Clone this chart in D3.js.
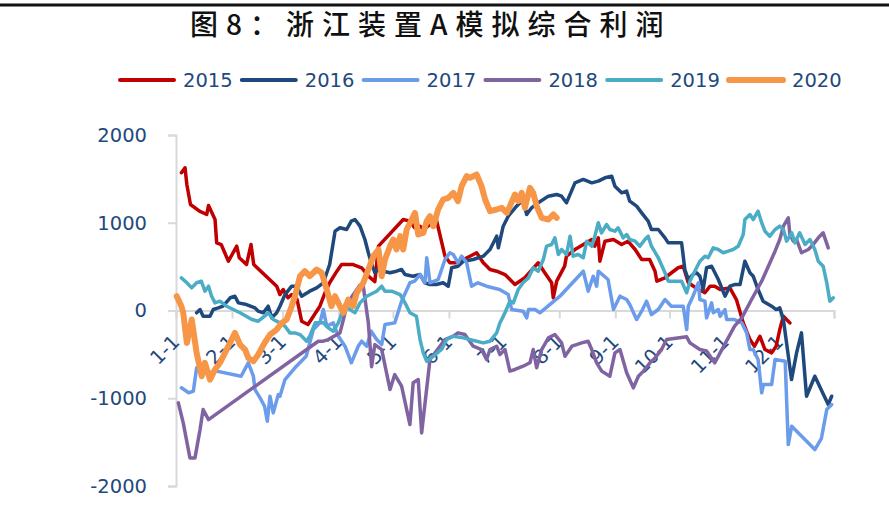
<!DOCTYPE html>
<html>
<head>
<meta charset="utf-8">
<script src="https://cdn.jsdelivr.net/npm/d3@7/dist/d3.min.js"></script>
<style>
  body { margin: 0; background: #fff; }
  svg text { font-family: "DejaVu Sans", Verdana, sans-serif; }
</style>
</head>
<body>
<div class="chart-div"></div>
<script>
// series names, axis labels
var years = ['2015', '2016', '2017', '2018', '2019', '2020'];
var month_labels = ['1-1', '2-1', '3-1', '4-1', '5-1', '6-1', '7-1', '8-1', '9-1', '10-1', '11-1', '12-1'];
var month_starts = [0, 31, 59, 90, 120, 151, 181, 212, 243, 273, 304, 334];
var y_ticks = [-2000, -1000, 0, 1000, 2000];

// [day of year, profit]
var s2015 = [[3,1570],[5,1627],[6,1436],[8,1208],[13,1132],[17,1094],[18,1197],[21.6,1037],[22.5,772],[25,752],[29,562],
  [33.6,733],[35,601],[39,524],[41.5,752],[43,524],[55.7,277],[57.5,182],[59.3,239],[62,145],[64,182],[67,125],[69.5,-122],
  [73,-160],[76,-65],[79.6,49],[82.4,202],[85,316],[89,448],[91.6,524],[98,524],[102.7,487],[106.4,391],[110,330],[112,733],
  [125.7,1037],[129.4,1018],[132,943],[135,961],[136.8,923],[140.5,980],[144,1037],[148.8,619],[151.5,544],[155,544],
  [159,581],[162.6,619],[166.3,658],[170,544],[173.7,467],[177.4,448],[182,410],[187.5,296],[193,373],[200.4,544],[204,430],
  [207.8,316],[208.7,145],[210.6,334],[215,505],[216,619],[220.7,695],[230,809],[231.7,733],[233.6,828],[234.5,562],
  [237.3,790],[242,809],[246.5,752],[250,790],[254,695],[257.6,581],[262,581],[265,448],[266,334],[270.5,373],[277.8,487],
  [280.6,505],[283.4,316],[289,239],[292.6,202],[295.4,277],[298,277],[301,239],[306.4,258],[310,125],[313.8,-141],
  [317.5,-331],[320,-407],[323,-293],[325.8,-445],[329.5,-483],[332,-407],[334,-217],[336,-65],[339.6,-141]];

var s2016 = [[11.4,-26],[13.3,11],[15,-65],[18.8,-65],[20.6,11],[23.4,30],[26,49],[30,145],[32.6,163],[34.5,87],[39,68],
  [43.7,30],[45.5,-8],[48.3,-26],[51,49],[53,-84],[55.7,-26],[57.5,49],[60.3,182],[64,277],[66.8,277],[69.5,163],[74,220],
  [77.8,258],[81.5,316],[85,524],[88,904],[90.7,943],[94.4,923],[97,1018],[99,1037],[101.8,961],[104.5,809],[106.4,658],
  [108,544],[110,430],[112,467],[114.7,448],[118.4,430],[122,448],[124.8,467],[126.7,410],[131,391],[135,410],[137.7,316],
  [140.5,296],[144,296],[147.8,316],[150.6,277],[152.5,487],[156,505],[159,562],[164.4,581],[170,619],[173.7,695],
  [177.4,847],[178.3,714],[181,961],[183.8,1075],[188.4,1189],[192,1265],[194,1094],[196.7,1170],[200.4,1227],[206,1303],
  [210.6,1322],[213.3,1303],[216,1227],[220.7,1455],[225.3,1493],[230,1455],[233.6,1474],[237.3,1512],[241,1531],
  [242.8,1417],[246.5,1341],[249.3,1360],[251,1246],[254.8,1189],[257.6,1113],[261.2,1018],[263,923],[266.8,923],
  [270.5,828],[272.3,771],[279.7,771],[281.5,467],[283.4,353],[286,410],[288,430],[289.8,391],[291.6,239],[293.5,487],
  [296.3,505],[300,353],[303.7,163],[306.4,277],[309,296],[312,296],[314.7,562],[317.5,430],[319.3,391],[322,239],
  [324.8,106],[329.5,49],[332,11],[334,30],[336,-103],[340.5,-787],[343.3,-483],[346,-255],[348.8,-977],[353.4,-749],
  [360.8,-1072],[362.7,-977]];

var s2017 = [[3,-881],[7,-938],[9.6,-919],[11.4,-653],[14,-710],[16,-653],[18.8,-710],[22.5,-691],[36,-749],[40,-596],
  [42.8,-749],[43.7,-901],[46.5,-996],[49,-1091],[50.5,-1262],[52,-977],[53.8,-1167],[56.6,-958],[57.5,-977],[60.3,-787],
  [65.8,-653],[72,-521],[76,-217],[79.6,-141],[81.5,11],[83.4,-179],[87,-141],[89.8,-293],[93.5,-407],[97,-596],
  [100.8,-407],[102.7,-350],[105.5,-407],[108,-236],[111,-331],[113.8,-388],[115.6,-160],[121,-141],[124.8,106],
  [129.4,316],[132,334],[135,410],[137.7,316],[138.7,601],[140.5,316],[145,353],[146,410],[148.8,581],[151.5,658],
  [153.4,638],[156,544],[158,619],[160.8,544],[163.5,277],[167,316],[171.8,277],[179,239],[183.8,182],[185.7,11],
  [192,-8],[194,-84],[195,11],[198.6,11],[201.3,-26],[212.4,163],[225.3,448],[228,220],[230.8,391],[232.7,277],
  [233.6,448],[239,353],[242,11],[245.6,163],[249.3,125],[251,68],[254.8,-103],[257.6,-8],[260.3,106],[263,-46],
  [266.8,11],[270.5,125],[274,49],[280.6,49],[282.5,-217],[283.4,49],[286,163],[289,316],[289.8,125],[292.6,106],
  [293.5,-84],[296.3,87],[297.2,-26],[300,11],[301,-65],[303.7,11],[304.6,-103],[309,-103],[313,-141],[315.7,-255],
  [317.5,-445],[319.3,-445],[322,-559],[324,-938],[325,-844],[329.5,-844],[331.4,-559],[337,-578],[338.7,-1528],
  [340.6,-1319],[353.4,-1585],[357,-1460],[360,-1129],[362.7,-1072]];

var s2018 = [[1.3,-1053],[4,-1281],[7.7,-1680],[10.5,-1680],[13.3,-1357],[15,-1129],[18,-1243],[78.7,-350],[81.5,-350],
  [84.2,-331],[90.7,-255],[92.6,-103],[94.4,49],[96.2,125],[101.8,290],[103.6,277],[106.4,-141],[108.2,-640],[110,-388],
  [113.8,-445],[118.4,-901],[121,-730],[124.8,-863],[129.4,-1300],[131.2,-824],[134,-787],[135.9,-1395],[140.5,-559],
  [146,-407],[148.8,-331],[153.4,-293],[156,-255],[159.8,-274],[164.4,-407],[169,-445],[171.8,-559],[173.7,-445],
  [177.4,-407],[179.2,-502],[182,-445],[184.7,-691],[187.5,-672],[192,-635],[195.8,-596],[197.6,-445],[199.5,-653],
  [202.3,-445],[206,-312],[209.6,-274],[213.3,-369],[215.2,-521],[219,-407],[221.6,-388],[224.4,-369],[228,-350],
  [230,-445],[232.7,-596],[235.5,-691],[240,-749],[242.8,-483],[245.6,-445],[249.3,-710],[253,-881],[255.8,-749],
  [258.6,-691],[262.2,-596],[265,-540],[268.6,-445],[271.4,-330],[282.5,-300],[284.3,-369],[289.8,-445],[293.5,-460],
  [298,-596],[309,-179],[313,-84],[318.4,125],[324,334],[331.4,676],[334,809],[336,961],[338.7,1056],[339.6,866],
  [341.5,790],[343.3,809],[346,658],[349.8,695],[352.5,752],[355.3,828],[358,885],[360.8,714]];

var s2019 = [[3,372],[6,316],[8.7,258],[11.4,316],[14,334],[16,220],[18,277],[19.7,163],[21.6,87],[24.3,106],[28,49],
  [35.4,-26],[42,-103],[45.5,-122],[49,-65],[51,-26],[53.8,-103],[57.5,-141],[60.3,-179],[63,-255],[65.8,-255],
  [68.6,-274],[72.3,-350],[74,-293],[77,-141],[81.5,-141],[84.2,-198],[87,-236],[89.8,-141],[93.5,68],[96.2,11],
  [99,-26],[101.8,87],[105.5,163],[111,220],[113.8,277],[115.6,220],[119.3,220],[124,182],[126.7,87],[129.4,-26],
  [133,-65],[135,-331],[136.8,-483],[138.7,-580],[142.4,-521],[147,-440],[149.8,-331],[153.4,-293],[159,-312],
  [166.3,-350],[170,-369],[173.7,-350],[177.4,-255],[179.2,-141],[182,-26],[184.7,106],[186.6,87],[189.3,239],
  [192,316],[195,372],[197.6,487],[200.4,448],[203.2,581],[205,733],[207.8,752],[209.6,828],[211.5,638],[213.3,695],
  [216,638],[218,847],[219.7,619],[222.5,638],[225.3,601],[227.2,790],[230,733],[231.7,847],[233.6,1000],[235.4,885],
  [238.2,980],[240,923],[242.8,904],[244.6,943],[247.4,828],[249.3,866],[251,809],[254,790],[256.6,733],[259.4,809],
  [261.2,847],[263,733],[266.8,601],[270.5,430],[272.3,334],[279.7,334],[282.5,202],[284.3,334],[287,448],[289.8,562],
  [292.6,619],[294.4,601],[297.2,714],[300,695],[302.7,658],[305.5,676],[308.2,695],[311,733],[313.8,866],[314.7,1037],
  [317.5,1094],[319.3,1037],[322,1132],[324,1000],[325.8,904],[328.5,847],[331.4,923],[334,961],[336,923],[337.8,790],
  [340.6,885],[342.4,771],[345,885],[348,752],[350.7,809],[353.4,695],[355.3,562],[358,505],[360,316],[361.7,106],
  [363.6,145]];

var s2020 = [[0.4,163],[3,49],[4,-26],[6,-369],[8.7,-103],[11.4,-483],[14.2,-749],[16,-596],[18.8,-787],[21.6,-672],
  [24.3,-596],[28,-445],[32.6,-255],[35.4,-388],[38.2,-445],[40,-540],[42.8,-578],[45.5,-502],[49,-369],[52,-274],
  [55.7,-217],[58.5,-141],[61.2,-103],[64,49],[65.8,163],[68.6,391],[71.3,448],[74,391],[77.8,467],[80.6,430],
  [83.4,239],[86,49],[88,163],[90.7,49],[92.6,-26],[95.3,125],[98,49],[100,202],[103.6,316],[106.4,467],[109.2,619],
  [112,695],[113.8,391],[115.6,581],[118.4,733],[120.2,809],[122,695],[124,847],[125.7,695],[127.6,923],[130.4,1037],
  [132.2,1113],[134,866],[136.8,885],[138.7,1018],[140.5,1075],[142.4,961],[145,1151],[147.8,1265],[150.6,1284],
  [153.4,1341],[156,1246],[158,1417],[160.8,1531],[162.6,1512],[166.3,1550],[169,1417],[171,1265],[173.7,1132],
  [177.4,1151],[180.2,1170],[183,1113],[184.7,1189],[187.5,1322],[189.3,1246],[191.2,1341],[193,1170],[195.8,1398],
  [197.6,1341],[199.5,1189],[202.3,1056],[206,1037],[208.7,1094],[210.6,1056]];

var series = [s2015, s2016, s2017, s2018, s2019, s2020];
var colours = ['#c00000', '#1f497d', '#6a9ceb', '#8064a2', '#4bacc6', '#f79646'];
var widths = [3.5, 3.5, 3.5, 3.5, 3.5, 6];

function draw_chart() {
  var w = 889,
      h = 520,
      text_colour = '#1f497d',
      font_size = 19.5;

  var svg = d3.select('.chart-div')
    .append('svg')
    .attr('width', w)
    .attr('height', h);

  // rule at the very top
  svg.append('rect')
    .attr('x', 0).attr('y', 3.5)
    .attr('width', w).attr('height', 3)
    .style('fill', '#111');

  svg.append('text')
    .attr('x', 190)
    .attr('y', 35)
    .style('font-family', '"Noto Sans CJK SC", sans-serif')
    .style('font-size', '28px')
    .style('font-weight', 500)
    .style('letter-spacing', '8px')
    .style('fill', '#111')
    .text('图8：浙江装置A模拟综合利润');

  var x = d3.scaleLinear().domain([0, 364]).range([176, 834]),
      y = d3.scaleLinear().domain([-2000, 2000]).range([486, 135]);

  // y axis
  var y_axis = svg.append('g')
    .attr('transform', 'translate(' + x(0) + ',0)')
    .call(d3.axisLeft(y).tickValues(y_ticks).tickSize(8).tickPadding(21)
      .tickFormat(function(d) { return String(d); }));
  y_axis.select('.domain').style('stroke', '#d9d9d9').style('stroke-width', 2);
  y_axis.selectAll('.tick line').style('stroke', '#d9d9d9').style('stroke-width', 2);
  y_axis.selectAll('.tick text')
    .style('font-size', font_size + 'px')
    .style('fill', text_colour)
    .style('font-family', '"DejaVu Sans", sans-serif');

  // x axis along zero
  var x_axis = svg.append('g')
    .attr('transform', 'translate(0,' + y(0) + ')')
    .call(d3.axisBottom(x).tickValues(month_starts.concat([364])).tickSize(8).tickFormat(''));
  x_axis.select('.domain').style('stroke', '#d9d9d9').style('stroke-width', 2);
  x_axis.selectAll('.tick line').style('stroke', '#d9d9d9').style('stroke-width', 2);

  svg.append('g').selectAll('text')
    .data(month_labels)
    .enter().append('text')
    .attr('transform', function(d, i) {
      return 'translate(' + x(month_starts[i]) + ',' + (y(0) + 28) + ') rotate(-45)';
    })
    .attr('text-anchor', 'end')
    .attr('dy', '0.35em')
    .style('font-size', font_size + 'px')
    .style('fill', text_colour)
    .text(function(d) { return d; });

  var line = d3.line()
    .x(function(d) { return x(d[0]); })
    .y(function(d) { return y(d[1]); });

  svg.append('g').selectAll('path')
    .data(series)
    .enter().append('path')
    .attr('d', line)
    .style('fill', 'none')
    .style('stroke', function(d, i) { return colours[i]; })
    .style('stroke-width', function(d, i) { return widths[i]; })
    .style('stroke-linejoin', 'round')
    .style('stroke-linecap', 'round');

  // legend
  var legend = svg.append('g').selectAll('g')
    .data(years)
    .enter().append('g')
    .attr('transform', function(d, i) { return 'translate(' + (120 + 121.8*i) + ',80)'; });

  legend.append('line')
    .attr('x1', 0).attr('x2', 54)
    .style('stroke', function(d, i) { return colours[i]; })
    .style('stroke-width', function(d, i) { return i == 5 ? 6 : 4; })
    .style('stroke-linecap', 'round');

  legend.append('text')
    .attr('x', 63)
    .attr('dy', '0.35em')
    .style('font-size', font_size + 'px')
    .style('fill', text_colour)
    .text(function(d) { return d; });
}

draw_chart();
</script>
</body>
</html>
